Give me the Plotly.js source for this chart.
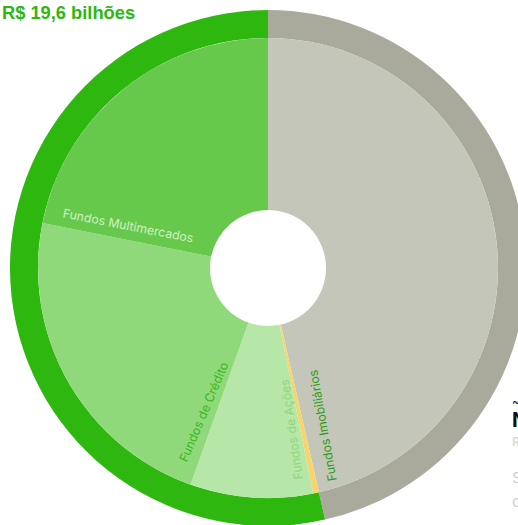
<!DOCTYPE html>
<html>
<head>
<meta charset="utf-8">
<script src="https://cdn.plot.ly/plotly-3.0.1.min.js"></script>
<style>
html,body{margin:0;padding:0;overflow:hidden;background:#fff;width:518px;height:525px;}
#chart{width:536px;height:536px;}
</style>
</head>
<body>
<div id="chart"></div>
<script>
// Data (R$ bilhões), listed clockwise from 12 o'clock
const outerLabels = ["Outros", "Fundos (total)"];
const outerValues = [17.0, 19.6];
const innerLabels = ["Outros", "Fundos Imobiliários", "Fundos de Ações", "Fundos de Crédito", "Fundos Multimercados"];
const innerValues = [17.0, 0.15, 3.15, 8.3, 8.0];
const titleText = "R$ 19,6 bilhões";

const outerColors = ["#a9aa9b", "#2eb80f"];
const innerColors = ["#c5c6ba", "#f6d66b", "#b6e6a8", "#8fd97b", "#66c94c"];

const W = 536, H = 536;
const px = v => v / W;
const py = v => 1 - v / H;

const outer = {
  type: "pie", labels: outerLabels, values: outerValues, sort: false,
  direction: "clockwise", rotation: 0, hole: 230/258,
  marker: {colors: outerColors, line: {width: 0}},
  textinfo: "none", hoverinfo: "none", showlegend: false,
  domain: {x: [px(10), px(526)], y: [10/H, 526/H]}
};
const inner = {
  type: "pie", labels: innerLabels, values: innerValues, sort: false,
  direction: "clockwise", rotation: 0, hole: 58/230,
  marker: {colors: innerColors, line: {width: 0}},
  textinfo: "none", hoverinfo: "none", showlegend: false,
  domain: {x: [px(38), px(498)], y: [38/H, 498/H]}
};

const font = "Inter, 'Liberation Sans', Arial, sans-serif";
function lab(text, x, y, ang, color, size) {
  return {text: text, xref: "paper", yref: "paper", x: px(x), y: py(y),
    xanchor: "center", yanchor: "middle", textangle: ang, showarrow: false,
    font: {family: font, size: size || 12.3, color: color}};
}
function side(text, y, color, size, bold) {
  return {text: bold ? "<b>" + text + "</b>" : text, xref: "paper", yref: "paper",
    x: px(510), y: py(y), xanchor: "left", yanchor: "middle", showarrow: false,
    font: {family: font, size: size, color: color}};
}

const annotations = [
  {text: "<b>" + titleText + "</b>", xref: "paper", yref: "paper", x: 0, y: 1,
   xanchor: "left", yanchor: "top", showarrow: false,
   font: {family: "'Liberation Sans', Arial, sans-serif", size: 18.3, color: "#2eb80f"}},
  lab(innerLabels[4], 128, 225, 11, "#d2efc6"),
  lab(innerLabels[3], 203, 412, -67, "#3bb81d"),
  lab(innerLabels[2], 291, 430, -98, "#8ed87b"),
  lab(innerLabels[1], 322, 426, -100, "#2a9e12"),
  side("~", 401, "#222", 12, false),
  side("Não", 420, "#111", 20, true),
  side("R$ 17,0 bilhões", 441, "#dcdcdc", 12, true),
  side("Saldo em", 477, "#cfcfcf", 15, false),
  side("conta", 501, "#cfcfcf", 15, false)
];

Plotly.newPlot("chart", [outer, inner], {
  width: W, height: H, margin: {l: 0, r: 0, t: 0, b: 0},
  paper_bgcolor: "#fff", plot_bgcolor: "#fff", showlegend: false,
  annotations: annotations
}, {displayModeBar: false, staticPlot: true});
</script>
</body>
</html>
